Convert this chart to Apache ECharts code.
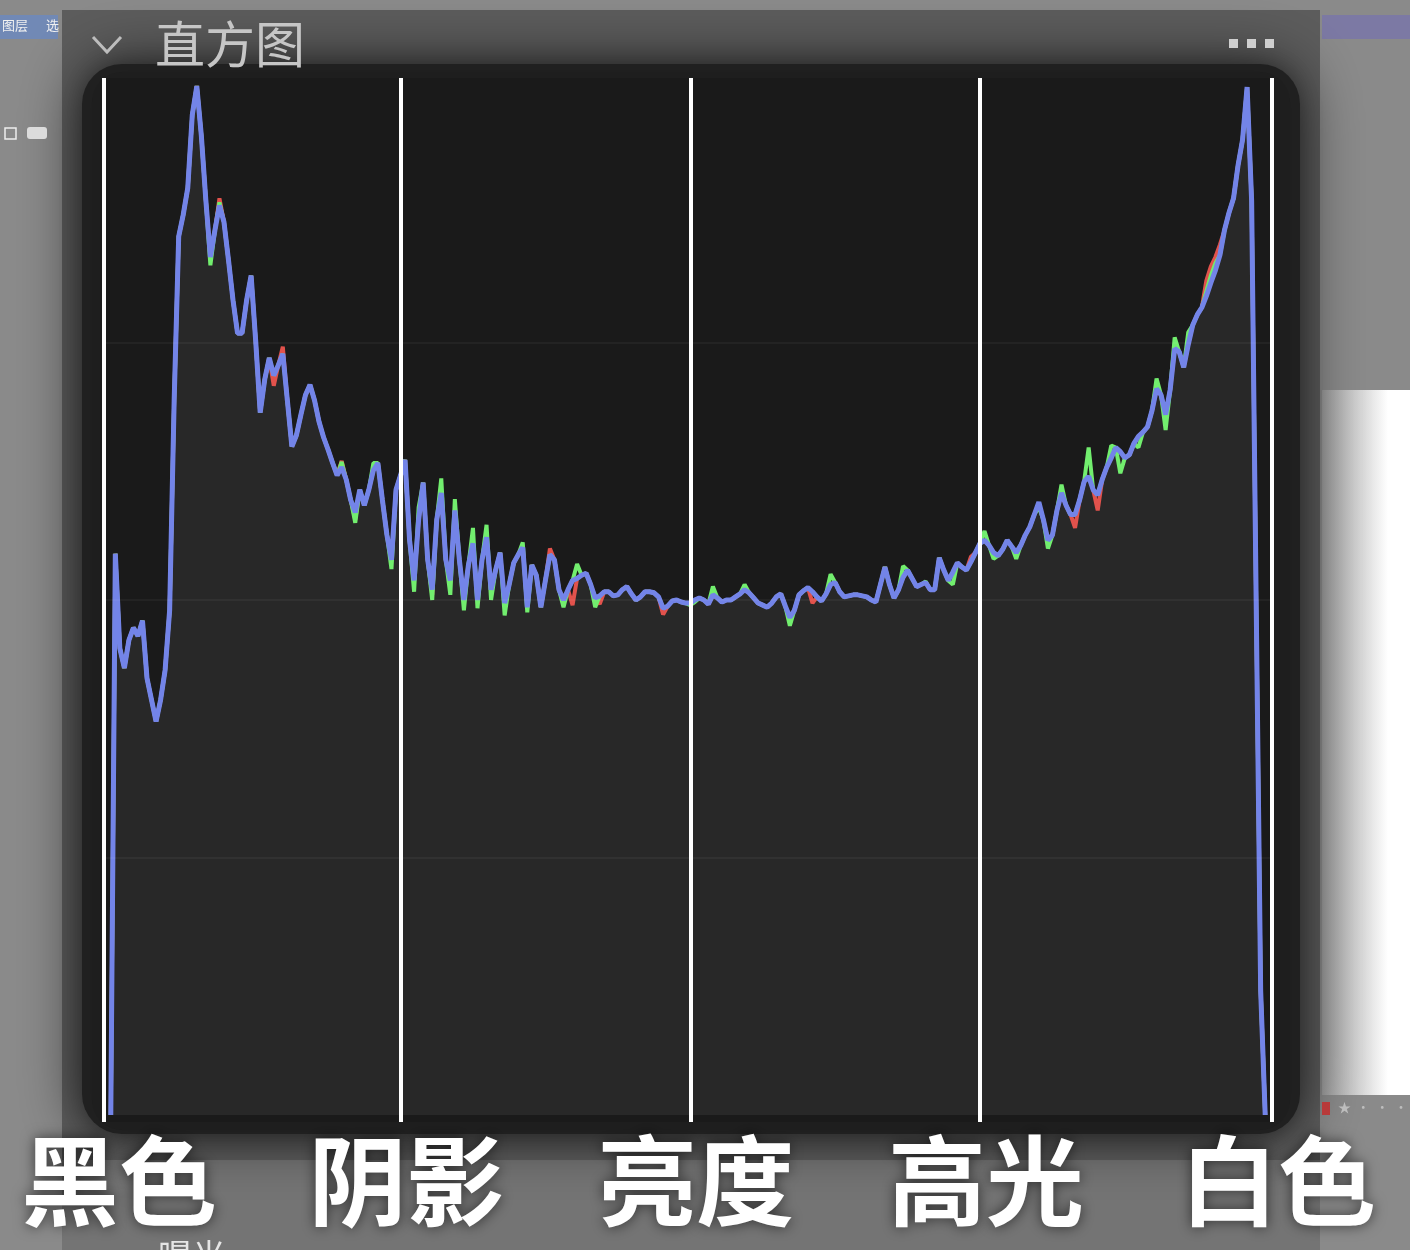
<!DOCTYPE html>
<html><head><meta charset="utf-8">
<script src="https://cdn.jsdelivr.net/npm/echarts@6/dist/echarts.min.js"></script>
<style>html,body{margin:0;padding:0;background:#8a8a8a;} #c{width:1410px;height:1250px;}</style>
</head><body><div id="c"></div>
<script>
// Histogram levels 0..255 (value = % of panel height)
const blue = [
0, 54.5, 45.3, 43.4, 46.1, 47.3, 46.5, 48.0, 42.4, 40.3,
38.2, 40.3, 43.2, 49.0, 69.4, 85.3, 87.4, 90.0, 97.1, 99.9,
95.1, 88.8, 83.3, 85.9, 88.3, 86.7, 83.0, 79.1, 75.9, 75.9,
79.1, 81.5, 75.2, 68.2, 71.4, 73.5, 71.8, 72.8, 73.9, 69.4,
64.9, 66.0, 68.0, 69.9, 70.9, 69.4, 67.3, 65.8, 64.6, 63.3,
62.1, 62.9, 61.7, 59.7, 58.5, 60.7, 59.2, 60.7, 62.6, 63.3,
59.7, 56.3, 53.9, 60.7, 62.1, 63.6, 55.8, 51.9, 57.8, 61.4,
53.9, 51.0, 57.8, 60.4, 53.9, 51.9, 58.7, 53.9, 50.0, 53.4,
55.5, 50.0, 53.9, 56.1, 51.0, 52.9, 54.6, 49.7, 51.5, 53.6,
54.4, 55.1, 49.3, 53.4, 52.4, 49.3, 51.9, 54.4, 53.9, 51.0,
50.0, 51.0, 51.9, 52.1, 52.4, 52.6, 51.5, 50.2, 50.4, 50.8,
50.8, 50.4, 50.5, 51.0, 51.3, 50.6, 50.0, 50.3, 50.8, 50.8,
50.7, 50.3, 49.2, 49.4, 49.9, 50.0, 49.8, 49.7, 49.7, 50.0,
50.2, 50.0, 49.6, 50.5, 50.2, 49.8, 50.0, 50.0, 50.3, 50.6,
51.0, 50.7, 50.2, 49.7, 49.5, 49.3, 49.7, 50.3, 50.6, 49.4,
48.3, 49.0, 50.5, 50.9, 51.2, 50.8, 50.3, 49.9, 50.6, 51.5,
51.7, 50.8, 50.3, 50.4, 50.5, 50.5, 50.4, 50.3, 50.0, 49.8,
51.5, 53.2, 51.5, 50.2, 51.0, 52.2, 52.9, 52.1, 51.3, 51.5,
51.7, 51.0, 51.0, 54.1, 52.9, 51.9, 52.7, 53.6, 53.2, 52.9,
53.7, 54.6, 55.5, 55.8, 55.3, 54.6, 54.3, 54.9, 55.8, 55.2,
54.6, 55.3, 56.3, 57.1, 58.3, 59.5, 57.8, 55.8, 56.3, 58.7,
60.4, 59.2, 58.3, 58.3, 59.7, 61.5, 62.0, 60.7, 60.2, 61.7,
62.9, 63.8, 64.8, 64.4, 63.8, 64.1, 65.2, 65.9, 66.3, 66.8,
68.4, 70.5, 69.9, 68.0, 70.4, 74.4, 74.1, 72.6, 74.8, 76.7,
77.7, 78.4, 79.5, 80.8, 82.0, 83.5, 85.9, 87.6, 89.0, 92.2,
94.7, 99.8, 88.8, 50.0, 12.0, 0
];
const green = [
0, 54.5, 45.3, 43.4, 46.1, 47.3, 46.5, 48.0, 42.4, 40.3,
38.2, 40.3, 43.2, 49.0, 69.4, 85.3, 87.4, 90.0, 97.1, 99.9,
95.1, 88.8, 82.5, 85.9, 88.6, 86.7, 83.0, 79.1, 75.9, 75.9,
79.1, 81.5, 75.2, 68.2, 71.4, 73.5, 71.8, 72.8, 73.9, 69.4,
64.9, 66.0, 68.0, 69.9, 70.9, 69.4, 67.3, 65.8, 64.6, 63.3,
62.1, 63.4, 61.7, 59.7, 57.5, 60.7, 59.2, 60.7, 63.3, 63.3,
59.7, 56.3, 53.0, 60.7, 62.1, 63.6, 55.8, 50.8, 59.0, 61.4,
53.9, 50.0, 57.8, 61.8, 53.9, 50.5, 59.8, 53.9, 49.0, 53.4,
57.0, 49.2, 53.9, 57.3, 50.0, 52.9, 54.6, 48.5, 51.5, 53.6,
54.4, 55.6, 48.8, 53.4, 52.4, 49.3, 51.9, 54.4, 53.9, 51.0,
49.3, 51.0, 51.9, 53.5, 52.4, 52.6, 51.5, 49.3, 50.4, 50.8,
50.8, 50.4, 50.5, 51.0, 51.3, 50.6, 50.0, 50.3, 50.8, 50.8,
50.7, 50.3, 49.2, 49.4, 49.9, 50.0, 49.8, 49.7, 49.5, 49.8,
50.2, 50.0, 49.6, 51.3, 50.2, 49.8, 50.0, 50.0, 50.3, 50.6,
51.5, 50.7, 50.2, 49.7, 49.5, 49.3, 49.7, 50.3, 50.6, 49.4,
47.5, 49.0, 50.5, 50.9, 51.2, 50.8, 50.3, 49.9, 50.6, 52.5,
51.7, 50.8, 50.3, 50.4, 50.5, 50.5, 50.4, 50.3, 50.0, 49.8,
51.5, 53.2, 51.5, 50.2, 51.0, 53.3, 52.9, 52.1, 51.3, 51.5,
51.8, 51.0, 51.0, 54.1, 52.9, 51.9, 51.5, 53.6, 53.2, 52.9,
53.7, 54.6, 55.5, 56.7, 55.3, 54.0, 54.3, 54.9, 55.8, 55.2,
54.0, 55.3, 56.3, 57.1, 58.3, 59.0, 57.8, 55.0, 56.3, 58.7,
61.2, 59.2, 58.3, 58.3, 59.7, 61.5, 64.8, 60.7, 60.2, 61.7,
62.9, 65.0, 64.8, 62.3, 63.8, 64.1, 65.2, 64.8, 66.3, 66.8,
68.4, 71.5, 69.9, 66.5, 70.4, 75.5, 74.1, 72.6, 76.0, 76.7,
77.7, 78.4, 80.0, 81.5, 82.7, 83.5, 85.9, 87.6, 89.0, 92.2,
94.7, 99.8, 88.8, 50.0, 12.0, 0
];
const red = [
0, 54.5, 45.3, 43.4, 46.1, 47.3, 46.5, 48.0, 42.4, 40.3,
38.2, 40.3, 43.2, 49.0, 69.4, 85.3, 87.4, 90.0, 97.1, 99.9,
95.1, 88.8, 83.3, 85.9, 89.0, 86.7, 83.0, 79.1, 75.9, 75.9,
79.1, 81.5, 75.2, 68.2, 71.4, 73.5, 70.8, 72.8, 74.6, 69.4,
64.9, 66.0, 68.0, 69.9, 70.9, 69.4, 67.3, 65.8, 64.6, 63.3,
62.1, 63.5, 61.7, 59.7, 57.8, 60.7, 59.2, 60.7, 62.6, 63.3,
59.7, 56.3, 53.9, 60.7, 62.1, 63.6, 55.8, 51.9, 57.8, 61.4,
53.9, 50.5, 57.8, 60.4, 53.9, 51.9, 58.7, 53.9, 50.0, 53.4,
55.5, 50.0, 53.9, 56.1, 51.0, 52.9, 54.6, 49.7, 51.5, 53.6,
54.4, 55.1, 49.3, 53.4, 52.4, 49.3, 51.9, 55.0, 53.9, 51.0,
50.0, 51.0, 49.5, 52.1, 52.4, 52.6, 51.5, 50.2, 49.6, 50.8,
50.8, 50.4, 50.5, 51.0, 51.3, 50.6, 50.0, 50.3, 50.8, 50.8,
50.7, 50.3, 48.6, 49.4, 49.9, 50.0, 49.8, 49.7, 49.7, 50.0,
50.2, 50.0, 49.6, 50.5, 50.2, 49.8, 50.0, 50.0, 50.3, 50.6,
51.0, 50.7, 50.2, 49.7, 49.5, 49.3, 49.7, 50.3, 50.6, 49.4,
48.3, 49.0, 50.5, 50.9, 51.2, 49.7, 50.3, 49.9, 50.6, 51.5,
51.7, 50.8, 50.3, 50.4, 50.5, 50.5, 50.4, 50.3, 50.0, 49.8,
51.5, 53.2, 51.5, 50.2, 51.0, 52.2, 52.9, 52.1, 51.3, 51.5,
51.7, 51.0, 51.0, 54.1, 52.9, 51.9, 52.7, 53.6, 53.2, 52.9,
54.2, 54.6, 55.5, 55.8, 55.3, 54.6, 54.3, 54.9, 55.8, 55.2,
54.6, 55.3, 56.3, 57.1, 58.3, 59.3, 57.8, 55.8, 56.3, 58.7,
60.4, 59.2, 58.3, 57.0, 59.7, 61.5, 62.0, 60.7, 58.7, 61.7,
62.9, 63.8, 64.8, 64.4, 63.8, 64.1, 65.2, 65.9, 66.3, 66.8,
68.4, 70.5, 69.9, 68.0, 70.4, 74.4, 74.1, 72.6, 74.8, 76.7,
77.7, 78.4, 81.0, 82.4, 83.3, 84.5, 85.9, 87.6, 89.0, 92.2,
94.7, 99.8, 88.8, 50.0, 12.0, 0
];
// Tonal zone dividers (level positions) and their labels
const dividers = [-1.5, 64, 128, 192, 256.5];
const zoneLabels = ['黑色', '阴影', '亮度', '高光', '白色'];
const gridLevels = [25, 50, 75];

const toPairs = arr => arr.map((v, i) => [i, v]);
const font = '"Noto Sans CJK SC", "Noto Sans", sans-serif';

const chart = echarts.init(document.getElementById('c'), null, {renderer: 'canvas'});
chart.setOption({
  animation: false,
  backgroundColor: '#8a8a8a',
  title: {
    text: '直方图', left: 150, top: 14,
    textStyle: {color: '#c6c6c6', fontSize: 50, fontWeight: 'normal', fontFamily: font}
  },
  graphic: [
    {type: 'rect', z: -5, shape: {x: 62, y: 10, width: 1258, height: 1240}, style: {fill: '#5c5c5c'}},
    {type: 'rect', z: -5, shape: {x: 62, y: 1160, width: 1258, height: 90}, style: {fill: '#747474'}},
    {type: 'rect', z: -4, shape: {x: 82, y: 64, width: 1218, height: 1070, r: 40},
      style: {fill: '#202020', shadowBlur: 60, shadowColor: '#202020'}},
    {type: 'rect', z: -4, shape: {x: 92, y: 72, width: 1198, height: 1058, r: 30},
      style: {fill: '#1e1e1e', shadowBlur: 30, shadowColor: '#1e1e1e'}},
    {type: 'rect', z: -5, shape: {x: 0, y: 15, width: 58, height: 24}, style: {fill: '#7189b6'}},
    {type: 'text', z: -3, style: {x: 2, y: 19, text: '图层', fill: '#f0f0f0', fontSize: 13, fontFamily: font}},
    {type: 'text', z: -3, style: {x: 46, y: 19, text: '选', fill: '#f0f0f0', fontSize: 13, fontFamily: font}},
    {type: 'rect', z: -3, shape: {x: 5, y: 128, width: 11, height: 11}, style: {fill: 'none', stroke: '#eee', lineWidth: 1.5}},
    {type: 'rect', z: -3, shape: {x: 27, y: 127, width: 20, height: 12, r: 3}, style: {fill: '#dcdcdc'}},
    {type: 'rect', z: -5, shape: {x: 1322, y: 15, width: 88, height: 24}, style: {fill: '#7c79a4'}},
    {type: 'rect', z: -5, shape: {x: 1322, y: 390, width: 88, height: 705},
      style: {fill: new echarts.graphic.LinearGradient(0, 0, 1, 0, [{offset: 0, color: '#9c9c9c'}, {offset: 0.75, color: '#ffffff'}, {offset: 1, color: '#ffffff'}])}},
    {type: 'rect', z: -3, shape: {x: 1322, y: 1102, width: 8, height: 13}, style: {fill: '#b83a3a'}},
    {type: 'text', z: -3, style: {x: 1338, y: 1101, text: '★  ·  ·  ·', fill: '#bdbdbd', fontSize: 13, fontFamily: font}},
    {type: 'polyline', z: 5, shape: {points: [[93, 37], [107, 52], [121, 37]]}, style: {stroke: '#bdbdbd', lineWidth: 3, fill: 'none'}},
    {type: 'rect', z: 5, shape: {x: 1229, y: 39, width: 9, height: 9}, style: {fill: '#cfcfcf'}},
    {type: 'rect', z: 5, shape: {x: 1247, y: 39, width: 9, height: 9}, style: {fill: '#cfcfcf'}},
    {type: 'rect', z: 5, shape: {x: 1265, y: 39, width: 9, height: 9}, style: {fill: '#cfcfcf'}},
    {type: 'text', z: 5, style: {x: 158, y: 1239, text: '曝光', fill: '#e6e6e6', fontSize: 34, fontFamily: font}}
  ],
  grid: {left: 104, right: 138, top: 78, bottom: 128, show: true, backgroundColor: '#1a1a1a', borderWidth: 0},
  xAxis: {
    type: 'value', min: -1.5, max: 256.5,
    axisLine: {show: false}, axisTick: {show: false}, splitLine: {show: false},
    axisLabel: {
      show: true, customValues: dividers, margin: 10,
      formatter: v => {
        const i = dividers.indexOf(v);
        return i < 0 ? '' : (i === 0 ? '{l|' + zoneLabels[i] + '}' : '{n|' + zoneLabels[i] + '}');
      },
      color: '#ffffff', fontSize: 98, fontWeight: 'bold', fontFamily: font,
      textShadowColor: 'rgba(0,0,0,0.6)', textShadowBlur: 14,
      rich: {
        l: {color: '#fff', fontSize: 98, fontWeight: 'bold', fontFamily: font, padding: [0, 0, 0, 30],
            textShadowColor: 'rgba(0,0,0,0.6)', textShadowBlur: 14},
        n: {color: '#fff', fontSize: 98, fontWeight: 'bold', fontFamily: font, padding: [0, 0, 0, 12],
            textShadowColor: 'rgba(0,0,0,0.6)', textShadowBlur: 14}
      }
    }
  },
  yAxis: {
    type: 'value', min: -0.68, max: 100.68,
    axisLine: {show: false}, axisTick: {show: false}, axisLabel: {show: false}, splitLine: {show: false}
  },
  series: [
    {
      name: 'R', type: 'line', z: 1, data: toPairs(red), showSymbol: false, symbol: 'none',
      lineStyle: {color: '#e2524c', width: 4},
      areaStyle: {color: 'rgba(255,255,255,0.09)'},
      markLine: {
        silent: true, symbol: 'none', label: {show: false},
        lineStyle: {color: 'rgba(255,255,255,0.045)', width: 2, type: 'solid'},
        data: gridLevels.map(y => ({yAxis: y}))
      }
    },
    {
      name: 'G', type: 'line', z: 2, data: toPairs(green), showSymbol: false, symbol: 'none',
      lineStyle: {color: '#72ee6e', width: 4}
    },
    {
      name: 'B', type: 'line', z: 3, data: toPairs(blue), showSymbol: false, symbol: 'none',
      lineStyle: {color: '#7384e8', width: 5},
      markLine: {
        silent: true, symbol: 'none', label: {show: false},
        lineStyle: {color: '#ffffff', width: 4, type: 'solid'},
        data: dividers.map(x => ({xAxis: x}))
      }
    }
  ]
});
</script>
</body></html>
